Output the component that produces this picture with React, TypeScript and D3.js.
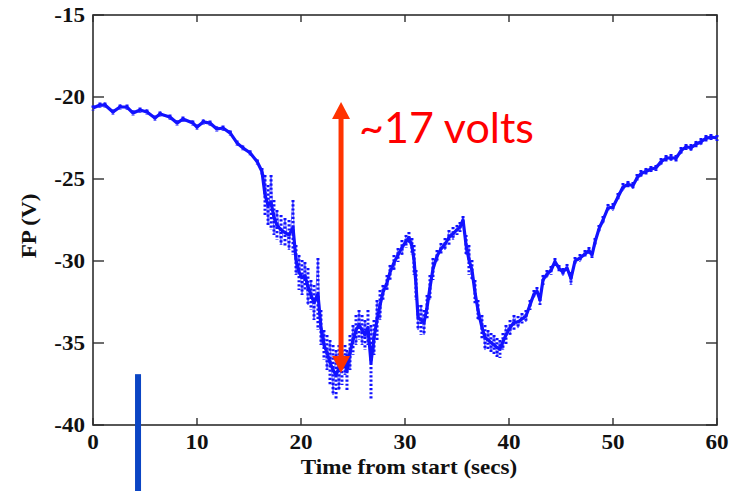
import React from 'react';
import * as d3 from 'd3';

// Time samples (s) and the upper / lower edge of the FP trace (V) at each sample
const timeSecs = [
  0, 0.67, 1.15, 1.92, 2.6, 3.27, 3.85, 4.52, 5.19, 5.96, 6.44, 7.4, 8.08, 8.65, 9.6, 10, 10.6, 11.25, 11.9, 12.5, 13.2, 13.85, 14.4, 15.1, 15.8,
  16.25, 16.54, 16.83, 17.12, 17.4, 17.69, 18.08, 18.46, 18.85, 19.23, 19.52, 19.81, 20.1, 20.38, 20.67, 20.96, 21.25, 21.63, 21.92, 22.21, 22.5, 22.79, 23.08, 23.37, 23.65, 23.94, 24.23, 24.42, 24.71, 25.0, 25.29, 25.58, 25.87, 26.15, 26.44, 26.73, 27.02, 27.31, 27.6, 27.88, 28.27, 28.56, 28.94, 29.33, 29.71, 30.1, 30.38, 30.67, 30.87, 31.06, 31.25, 31.54, 31.83, 32.12, 32.4, 32.69, 33.08, 33.46, 33.85, 34.23, 34.62, 35.0, 35.29, 35.58, 35.87, 36.15, 36.44, 36.73, 37.02, 37.4, 37.69, 37.98, 38.27, 38.56, 38.85, 39.13, 39.42, 39.71, 40.1, 40.48, 40.87, 41.25, 41.63, 42.02, 42.4, 42.69, 42.98, 43.27, 43.65, 44.04, 44.42, 44.81, 45.19, 45.58, 45.96, 46.35, 46.83, 47.31, 47.69, 47.98, 48.27, 48.65, 49.04, 49.52, 50.0, 50.48, 50.96, 51.44, 51.92, 52.31, 52.69, 53.17, 53.65, 54.13, 54.62, 55.1, 55.58, 56.06, 56.54, 57.02, 57.5, 57.98, 58.46, 58.94, 59.42, 60.0,
];
const fpUpper = [
  -20.52, -20.34, -20.34, -20.76, -20.46, -20.46, -20.83, -20.64, -20.76, -21.13, -20.89, -21.07, -21.44, -21.19, -21.44, -21.68, -21.37, -21.44, -21.8, -21.74, -22.05, -22.65, -22.95, -23.25, -23.81,
  -24.33, -24.76, -25.37, -24.76, -26.28, -26.89, -27.2, -27.38, -27.5, -26.28, -29.02, -29.63, -29.94, -30.06, -30.43, -31.16, -31.46, -29.82, -32.99, -34.21, -34.51, -34.82, -35.12, -35.43, -35.12, -35.43, -35.12, -35.43, -34.51, -33.9, -33.29, -32.99, -33.29, -33.6, -32.99, -33.9, -33.6, -32.38, -31.77, -31.46, -30.85, -30.24, -29.63, -29.21, -28.72, -28.41, -28.23, -28.6, -29.02, -30.55, -32.68, -32.68, -32.99, -32.07, -30.85, -29.82, -29.33, -28.9, -28.6, -28.11, -27.93, -27.8, -27.62, -27.26, -28.41, -29.02, -29.94, -31.16, -32.38, -33.29, -33.9, -34.21, -34.39, -34.51, -34.7, -34.82, -34.39, -33.9, -33.6, -33.29, -33.35, -33.17, -32.99, -32.38, -31.77, -31.59, -32.07, -30.85, -30.55, -30.3, -29.82, -30.24, -30.43, -30.18, -30.67, -29.76, -29.57, -29.33, -29.15, -29.45, -28.6, -27.8, -27.26, -26.52, -26.46, -25.85, -25.24, -25.12, -25.18, -24.7, -24.45, -24.33, -24.21, -24.15, -23.72, -23.54, -23.48, -23.54, -23.05, -22.87, -22.87, -22.68, -22.5, -22.32, -22.26, -22.32,
];
const fpLower = [
  -20.82, -20.64, -20.64, -21.06, -20.76, -20.76, -21.13, -20.94, -21.06, -21.43, -21.19, -21.37, -21.74, -21.49, -21.74, -21.98, -21.67, -21.74, -22.1, -22.04, -22.35, -22.95, -23.25, -23.55, -24.11,
  -24.76, -27.2, -27.8, -28.11, -28.41, -28.72, -29.02, -29.15, -29.33, -29.63, -30.85, -31.77, -32.07, -31.77, -32.68, -32.99, -33.6, -34.21, -35.12, -36.04, -36.65, -37.56, -38.17, -38.48, -37.87, -37.56, -36.95, -37.99, -36.65, -35.73, -35.12, -34.82, -35.12, -35.43, -35.12, -38.48, -35.73, -34.82, -33.6, -32.38, -31.77, -31.16, -30.55, -30.06, -29.63, -29.21, -28.9, -29.63, -30.85, -32.38, -34.21, -34.51, -34.51, -33.6, -32.38, -31.16, -30.06, -29.63, -29.33, -29.02, -28.72, -28.41, -28.23, -27.74, -29.63, -30.85, -31.16, -32.68, -33.6, -34.82, -35.43, -35.43, -35.55, -35.73, -35.85, -35.91, -35.43, -35.12, -34.51, -34.21, -34.09, -33.9, -33.72, -32.99, -32.26, -32.07, -32.68, -31.46, -31.04, -30.85, -30.24, -30.67, -30.91, -30.67, -31.46, -30.24, -30.06, -29.82, -29.57, -29.82, -29.09, -28.29, -27.74, -27.01, -26.95, -26.34, -25.73, -25.55, -25.61, -25.18, -24.88, -24.76, -24.57, -24.51, -24.15, -23.96, -23.9, -23.96, -23.48, -23.23, -23.29, -23.11, -22.93, -22.74, -22.62, -22.68,
];

const xTicks = [0, 10, 20, 30, 40, 50, 60];
const yTicks = [-40, -35, -30, -25, -20, -15];

// annotations (data units)
const arrowTime = 23.85;
const arrowTop = -20.3;
const arrowBottom = -36.83;
const arrowLabel = '~17 volts';
const markerTime = 4.33;
const markerTop = -36.9;

export default function App() {
  const W = 741;
  const H = 491;
  const x = d3.scaleLinear().domain([0, 60]).range([93, 717]);
  const y = d3.scaleLinear().domain([-40, -15]).range([425, 15]);

  const mid: [number, number][] = timeSecs.map((t, i) => [t, (fpUpper[i] + fpLower[i]) / 2]);
  const zig: [number, number][] = timeSecs.map((t, i) => [t, i % 2 === 0 ? fpUpper[i] : fpLower[i]]);
  const line = d3
    .line<[number, number]>()
    .x((d) => x(d[0]))
    .y((d) => y(d[1]));

  const axisColor = '#2e2e2e';
  const serif = '"Liberation Serif", "Times New Roman", serif';
  const blue = '#1212ff';

  const ax = x(arrowTime);
  const aTop = y(arrowTop);
  const aBot = y(arrowBottom);
  const headL = 17;
  const headW = 9;

  return (
    <svg
      width={W}
      height={H}
      style={{ position: 'absolute', left: 0, top: 0, display: 'block', background: '#fff' }}
    >
      <rect x={0} y={0} width={W} height={H} fill="#fff" />
      {/* frame */}
      <rect
        x={x(0)}
        y={y(-15)}
        width={x(60) - x(0)}
        height={y(-40) - y(-15)}
        fill="none"
        stroke={axisColor}
        strokeWidth={1.6}
      />
      {/* ticks */}
      {xTicks.map((t) => (
        <g key={'xt' + t}>
          <line x1={x(t)} x2={x(t)} y1={y(-40)} y2={y(-40) - 7} stroke={axisColor} strokeWidth={1.4} />
          <line x1={x(t)} x2={x(t)} y1={y(-15)} y2={y(-15) + 7} stroke={axisColor} strokeWidth={1.4} />
          <g transform={`translate(${x(t)},449) scale(1.1,1)`}>
            <text textAnchor="middle" fontFamily={serif} fontWeight="bold" fontSize={21} fill="#111">
              {t}
            </text>
          </g>
        </g>
      ))}
      {yTicks.map((v) => (
        <g key={'yt' + v}>
          <line x1={x(0)} x2={x(0) + 11} y1={y(v)} y2={y(v)} stroke={axisColor} strokeWidth={1.4} />
          <line x1={x(60)} x2={x(60) - 11} y1={y(v)} y2={y(v)} stroke={axisColor} strokeWidth={1.4} />
          <g transform={`translate(85,${y(v) + 7}) scale(1.1,1)`}>
            <text textAnchor="end" fontFamily={serif} fontWeight="bold" fontSize={21} fill="#111">
              {v}
            </text>
          </g>
        </g>
      ))}
      {/* axis titles */}
      <g transform={`translate(409,474) scale(1.1,1)`}>
        <text textAnchor="middle" fontFamily={serif} fontWeight="bold" fontSize={21} fill="#111">
          Time from start (secs)
        </text>
      </g>
      <g transform={`translate(36,226) rotate(-90) scale(1.1,1)`}>
        <text textAnchor="middle" fontFamily={serif} fontWeight="bold" fontSize={21} fill="#111">
          FP (V)
        </text>
      </g>

      {/* scatter spread */}
      {timeSecs.map((t, i) => (
        <line
          key={'s' + i}
          x1={x(t)}
          x2={x(t)}
          y1={y(fpUpper[i])}
          y2={y(fpLower[i])}
          stroke={blue}
          strokeWidth={3}
          strokeDasharray="2.2 2"
        />
      ))}
      <path d={line(zig) || ''} fill="none" stroke={blue} strokeWidth={1} strokeOpacity={0.6} />
      {/* trace */}
      <path d={line(mid) || ''} fill="none" stroke={blue} strokeWidth={3.2} strokeLinejoin="round" />

      {/* blue marker bar */}
      <rect x={x(markerTime) - 3} y={y(markerTop)} width={6} height={H - y(markerTop)} fill="#0b45c4" />

      {/* red double arrow */}
      <line x1={ax} x2={ax} y1={aTop + headL - 1} y2={aBot - headL + 1} stroke="#ff3300" strokeWidth={5} />
      <path d={`M${ax},${aTop} L${ax - headW},${aTop + headL} L${ax + headW},${aTop + headL} Z`} fill="#ff3300" />
      <path d={`M${ax},${aBot} L${ax - headW},${aBot - headL} L${ax + headW},${aBot - headL} Z`} fill="#ff3300" />
      <text x={359} y={143} fontFamily="Lato, 'Open Sans', sans-serif" fontSize={43} fill="#ff0000">
        {arrowLabel}
      </text>
    </svg>
  );
}
